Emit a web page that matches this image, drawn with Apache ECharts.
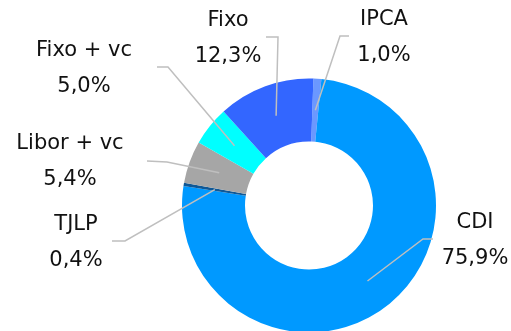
<!DOCTYPE html>
<html>
<head>
<meta charset="utf-8">
<script src="https://cdn.jsdelivr.net/npm/echarts@6/dist/echarts.min.js"></script>
<style>
  html, body { margin: 0; padding: 0; background: #fff; }
  #chart { width: 511px; height: 331px; }
</style>
</head>
<body>
<div id="chart"></div>
<script>
// Composição da dívida por indexador (%)
const categories = ['IPCA', 'CDI', 'TJLP', 'Libor + vc', 'Fixo + vc', 'Fixo'];
const shares = [1.0, 75.9, 0.4, 5.4, 5.0, 12.3];
const sliceColors = ['#6B98FF', '#0099FF', '#0F5896', '#A6A6A6', '#00FFFF', '#3366FF'];

// Label block centres and leader-line elbows, per category
const labelSpots = {
  'IPCA':       { x: 384, y: 38,  elbow: [340, 36],  end: [349, 36] },
  'CDI':        { x: 475, y: 241, elbow: [423, 239], end: [433, 239] },
  'TJLP':       { x: 76,  y: 243, elbow: [125, 241], end: [112, 241] },
  'Libor + vc': { x: 70,  y: 162, elbow: [167, 162], end: [147, 161] },
  'Fixo + vc':  { x: 84,  y: 69,  elbow: [168, 67],  end: [157, 67] },
  'Fixo':       { x: 228, y: 39,  elbow: [278, 37],  end: [266, 37] }
};

const CX = 309, CY = 205.5, R_IN = 64, R_OUT = 127;
const R_MID = (R_IN + R_OUT) / 2;

const fmt = v => v.toFixed(1).replace('.', ',') + '%';

const pieData = colored => categories.map((name, i) => ({
  name: name,
  value: shares[i],
  itemStyle: { color: colored ? sliceColors[i] : 'rgba(0,0,0,0)' }
}));

const common = {
  type: 'pie',
  center: [CX, CY],
  radius: [R_IN, R_OUT],
  startAngle: 88,
  clockwise: true,
  avoidLabelOverlap: false,
  minAngle: 0,
  silent: true
};

const chart = echarts.init(document.getElementById('chart'), null, { renderer: 'canvas' });
chart.setOption({
  animation: false,
  backgroundColor: '#ffffff',
  series: [
    // coloured ring
    Object.assign({}, common, {
      z: 2,
      data: pieData(true),
      label: { show: false },
      labelLine: { show: false }
    }),
    // transparent twin carrying the labels, so leader lines sit above the ring
    Object.assign({}, common, {
      z: 5,
      data: pieData(false),
      label: {
        show: true,
        position: 'outside',
        formatter: p => p.name + '\n' + fmt(p.value),
        fontFamily: 'DejaVu Sans',
        fontSize: 21,
        lineHeight: 36,
        color: '#111111',
        align: 'center'
      },
      labelLine: {
        show: true,
        length: 10,
        length2: 10,
        lineStyle: { color: '#BFBFBF', width: 1.5 }
      },
      labelLayout: function (params) {
        const spot = labelSpots[categories[params.dataIndex]];
        // Pull the leader's start from the outer rim to the middle of the ring
        let start = [CX, CY];
        const pts = params.labelLinePoints;
        if (pts && pts.length) {
          const k = R_MID / R_OUT;
          start = [CX + (pts[0][0] - CX) * k, CY + (pts[0][1] - CY) * k];
        }
        return {
          x: spot.x,
          y: spot.y,
          align: 'center',
          verticalAlign: 'middle',
          labelLinePoints: [start, spot.elbow, spot.end]
        };
      }
    })
  ]
});
</script>
</body>
</html>
